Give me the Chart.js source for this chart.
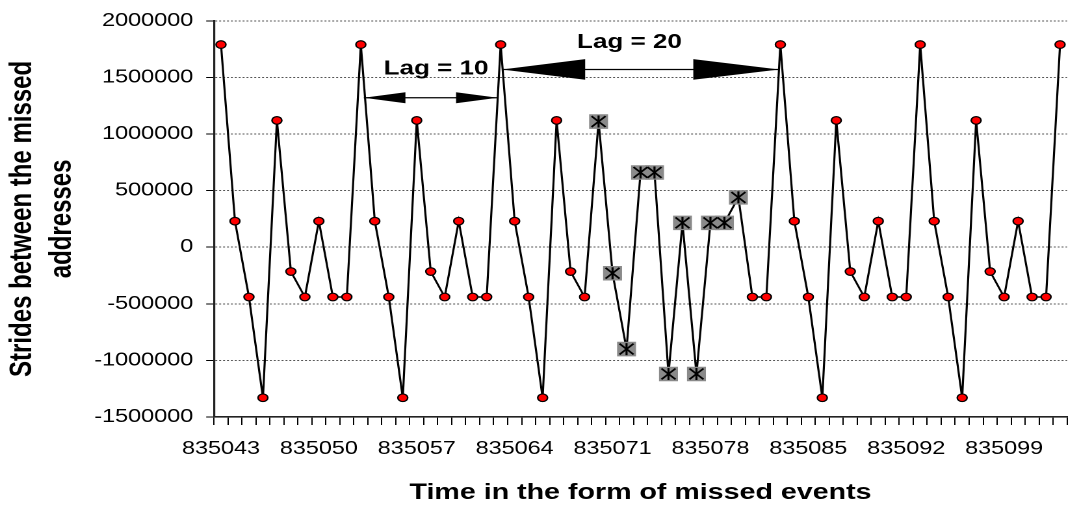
<!DOCTYPE html>
<html><head><meta charset="utf-8">
<script src="https://cdn.jsdelivr.net/npm/chart.js@4/dist/chart.umd.min.js"></script>
<style>
html,body{margin:0;padding:0;background:#fff;overflow:hidden;}
#wrap{position:absolute;left:0;top:0;width:830px;height:508px;transform-origin:0 0;transform:scaleX(1.3);}
</style></head><body>
<div id="wrap"><canvas id="c" width="830" height="508"></canvas></div>
<script>
// ---- data ----
const timeLabels = ['835043','835044','835045','835046','835047','835048','835049','835050','835051','835052',
  '835053','835054','835055','835056','835057','835058','835059','835060','835061','835062',
  '835063','835064','835065','835066','835067','835068','835069','835070','835071','835072',
  '835073','835074','835075','835076','835077','835078','835079','835080','835081','835082',
  '835083','835084','835085','835086','835087','835088','835089','835090','835091','835092',
  '835093','835094','835095','835096','835097','835098','835099','835100','835101','835102','835103'];
const strides = [1790000,230000,-440000,-1330000,1120000,-215000,-440000,230000,-440000,-440000,
  1790000,230000,-440000,-1330000,1120000,-215000,-440000,230000,-440000,-440000,
  1790000,230000,-440000,-1330000,1120000,-215000,-440000,
  1110000,-230000,-900000,660000,660000,-1120000,215000,-1120000,215000,215000,440000,
  -440000,-440000,
  1790000,230000,-440000,-1330000,1120000,-215000,-440000,230000,-440000,-440000,
  1790000,230000,-440000,-1330000,1120000,-215000,-440000,230000,-440000,-440000,
  1790000];
const anomalyEvents = ['835070','835071','835072','835073','835074','835075','835076','835077','835078','835079','835080'];
const shownTicks = ['835043','835050','835057','835064','835071','835078','835085','835092','835099'];
const yTicks = [-1500000,-1000000,-500000,0,500000,1000000,1500000,2000000];
const lagLabels = ['Lag = 10','Lag = 20'];
const lagFrom = ['835053','835063'];
const lagTo = ['835063','835083'];
const lagLevel = [1320000,1570000];

const isAnom = i => anomalyEvents.includes(timeLabels[i]);
const anomalyData = strides.map((v,i)=> isAnom(i) ? v : null);

const FONT = '"Liberation Sans", Arial, Helvetica, sans-serif';

const lagPlugin = {
  id: 'lagArrows',
  afterDatasetsDraw(chart, args, opts) {
    const {ctx} = chart;
    const xs = chart.scales.x, ys = chart.scales.y;
    opts.items.forEach(it => {
      const x1 = xs.getPixelForValue(lagFrom[it.k]) + it.inset;
      const x2 = xs.getPixelForValue(lagTo[it.k]) - it.inset;
      const yy = ys.getPixelForValue(lagLevel[it.k]);
      ctx.save();
      ctx.strokeStyle = '#000'; ctx.lineWidth = 1.2;
      ctx.beginPath(); ctx.moveTo(x1, yy); ctx.lineTo(x2, yy); ctx.stroke();
      ctx.fillStyle = '#000';
      ctx.beginPath(); ctx.moveTo(x1, yy); ctx.lineTo(x1 + it.headL, yy - it.headH); ctx.lineTo(x1 + it.headL, yy + it.headH); ctx.closePath(); ctx.fill();
      ctx.beginPath(); ctx.moveTo(x2, yy); ctx.lineTo(x2 - it.headR, yy - it.headH); ctx.lineTo(x2 - it.headR, yy + it.headH); ctx.closePath(); ctx.fill();
      ctx.font = 'bold 20px ' + FONT;
      ctx.textAlign = 'center'; ctx.textBaseline = 'middle';
      ctx.fillText(lagLabels[it.k], x1 + (x2 - x1) * it.textFrac, yy - it.textUp);
      ctx.restore();
    });
  }
};

new Chart(document.getElementById('c'), {
  type: 'line',
  data: {
    labels: timeLabels,
    datasets: [
      { data: anomalyData, showLine: false, pointStyle: 'crossRot', pointRadius: 7.6,
        pointBorderColor: '#000', pointBackgroundColor: 'transparent', pointBorderWidth: 1.6, borderColor: '#000', order: 0 },
      { data: anomalyData, showLine: false, pointStyle: 'line', pointRotation: 90, pointRadius: 6,
        pointBorderColor: '#000', pointBackgroundColor: 'transparent', pointBorderWidth: 1.6, borderColor: '#000', order: 0 },
      { data: strides, borderColor: '#000', borderWidth: 1.6, tension: 0, order: 1,
        pointStyle: c => isAnom(c.dataIndex) ? 'rect' : 'circle',
        pointRadius: c => isAnom(c.dataIndex) ? 10.3 : 3.8,
        pointBackgroundColor: c => isAnom(c.dataIndex) ? '#8a8a8a' : '#ff0000',
        pointBorderColor: c => isAnom(c.dataIndex) ? '#8a8a8a' : '#000',
        pointBorderWidth: c => isAnom(c.dataIndex) ? 0 : 1.2 }
    ]
  },
  options: {
    responsive: false, animation: false, devicePixelRatio: 2, events: [],
    layout: { padding: { top: 20, right: 0, bottom: 0, left: 0 } },
    plugins: {
      legend: { display: false }, tooltip: { enabled: false },
      lagArrows: { items: [
        { k: 0, inset: 2.3, headL: 32, headR: 32, headH: 5.5, textFrac: 0.54, textUp: 29 },
        { k: 1, inset: 1, headL: 64, headR: 66, headH: 10.3, textFrac: 0.46, textUp: 27 }
      ] }
    },
    scales: {
      x: {
        type: 'category', offset: true,
        grid: { display: true, drawOnChartArea: false, drawTicks: true, tickLength: 8, offset: true, color: '#000', tickColor: '#000', lineWidth: 1 },
        border: { display: true, color: '#222', width: 1.6 },
        ticks: { autoSkip: false, maxRotation: 0, minRotation: 0, padding: 13, color: '#000',
          font: { family: FONT, size: 18 },
          callback: function(v, i) { const l = this.getLabelForValue(v); return shownTicks.includes(l) ? l : ''; } },
        title: { display: true, text: 'Time in the form of missed events', color: '#000',
          font: { family: FONT, size: 22, weight: 'bold' }, padding: { top: 0, bottom: 2 } },
        afterFit: s => { s.height = 91; }
      },
      y: {
        min: yTicks[0], max: yTicks[yTicks.length - 1],
        afterBuildTicks: s => { s.ticks = yTicks.map(v => ({ value: v })); },
        grid: { color: '#555', lineWidth: 1, drawTicks: true, tickLength: 6, tickColor: '#000' },
        border: { display: true, color: '#222', width: 1.6, dash: [1.5, 1.5] },
        ticks: { padding: 10, color: '#000', font: { family: FONT, size: 18 }, callback: v => String(v) },
        title: { display: true, text: ['Strides between the missed', 'addresses'], color: '#000',
          font: { family: FONT, size: 24, weight: 'bold', lineHeight: 1.28 }, padding: { top: 2, bottom: 0 } },
        afterFit: s => { s.width = 164.6; }
      }
    }
  },
  plugins: [lagPlugin]
});
</script>
</body></html>
